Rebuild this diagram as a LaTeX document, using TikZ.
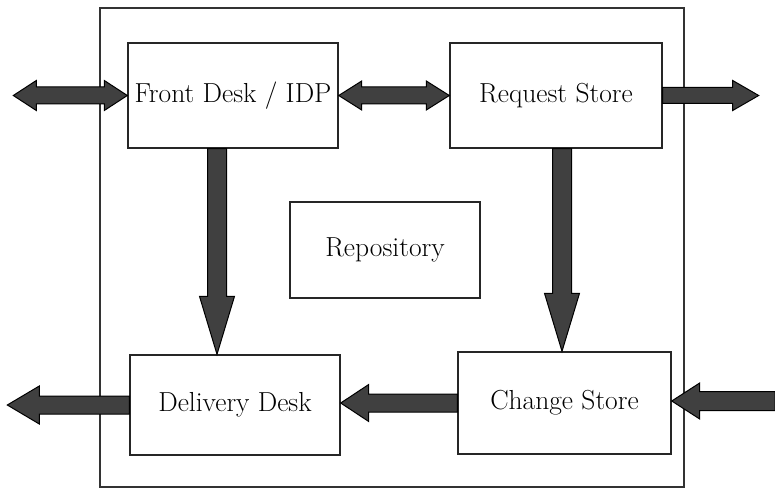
\documentclass[tikz,border=0pt]{standalone}
\usetikzlibrary{calc}

\tikzset{
  box/.style={draw=black!85, line width=1.4pt, rectangle, inner sep=0pt,
    font=\rmfamily\fontsize{27.5}{32}\selectfont},
  frame/.style={draw=black!80, line width=1.4pt},
  arrowbody/.style={fill=black!75, draw=black, line width=1pt, line join=miter}
}

% single fat arrow: from, to, shaft half width, head half width, head length
\newcommand\fatarrow[5]{%
  \coordinate (hb) at ($(#2)!#5!(#1)$);
  \filldraw[arrowbody] ($(#1)!#3!90:(#2)$) -- ($(hb)!#3!-90:(#1)$)
    -- ($(hb)!#4!-90:(#1)$) -- (#2) -- ($(hb)!#4!90:(#1)$)
    -- ($(hb)!#3!90:(#1)$) -- ($(#1)!#3!-90:(#2)$) -- cycle;
}
% double-headed fat arrow, same arguments
\newcommand\fatdarrow[5]{%
  \coordinate (ha) at ($(#1)!#5!(#2)$);
  \coordinate (hb) at ($(#2)!#5!(#1)$);
  \filldraw[arrowbody] (#1) -- ($(ha)!#4!90:(#2)$) -- ($(ha)!#3!90:(#2)$)
    -- ($(hb)!#3!-90:(#1)$) -- ($(hb)!#4!-90:(#1)$) -- (#2)
    -- ($(hb)!#4!90:(#1)$) -- ($(hb)!#3!90:(#1)$)
    -- ($(ha)!#3!-90:(#2)$) -- ($(ha)!#4!-90:(#2)$) -- cycle;
}

\begin{document}
\begin{tikzpicture}[x=1pt, y=-1pt]
  \useasboundingbox (0,0) rectangle (775,492);

  % enclosing system boundary
  \draw[frame] (100,8) rectangle (684,487);

  % components
  \node[box, minimum width=210pt, minimum height=105pt] (fd)   at (233,95.5)  {Front Desk / IDP};
  \node[box, minimum width=212pt, minimum height=105pt] (rs)   at (556,95.5)  {Request Store};
  \node[box, minimum width=190pt, minimum height=96pt]  (repo) at (385,250)   {Repository};
  \node[box, minimum width=210pt, minimum height=100pt] (dd)   at (235,405)   {Delivery Desk};
  \node[box, minimum width=213pt, minimum height=102pt] (cs)   at (564.5,403) {Change Store};

  % free ends of the external flows
  \coordinate (inL)  at ($(fd.west)+(-114,0)$);
  \coordinate (outR) at ($(rs.east)+(96,0)$);
  \coordinate (outL) at ($(dd.west)+(-122,0)$);
  \coordinate (inR)  at (775,401);
  \coordinate (csin) at (cs.east |- inR);

  % vertical flow end points
  \coordinate (fdS) at ($(fd.south)+(-16,0)$);
  \coordinate (ddN) at (fdS |- dd.north);
  \coordinate (rsS) at ($(rs.south)+(6,0)$);
  \coordinate (csN) at (rsS |- cs.north);
  \coordinate (ddE) at (dd.east |- cs.west);

  % flows
  \fatdarrow{inL}{fd.west}{8.5pt}{15pt}{23pt}
  \fatdarrow{fd.east}{rs.west}{8.5pt}{14.5pt}{23pt}
  \fatarrow{rs.east}{outR}{8pt}{15pt}{26pt}
  \fatarrow{fdS}{ddN}{9.5pt}{17.5pt}{58pt}
  \fatarrow{rsS}{csN}{9.5pt}{17.5pt}{58pt}
  \fatarrow{cs.west}{ddE}{9pt}{18.5pt}{28pt}
  \fatarrow{dd.west}{outL}{9pt}{19pt}{32pt}
  \fatarrow{inR}{csin}{9.5pt}{18pt}{28pt}
\end{tikzpicture}
\end{document}
